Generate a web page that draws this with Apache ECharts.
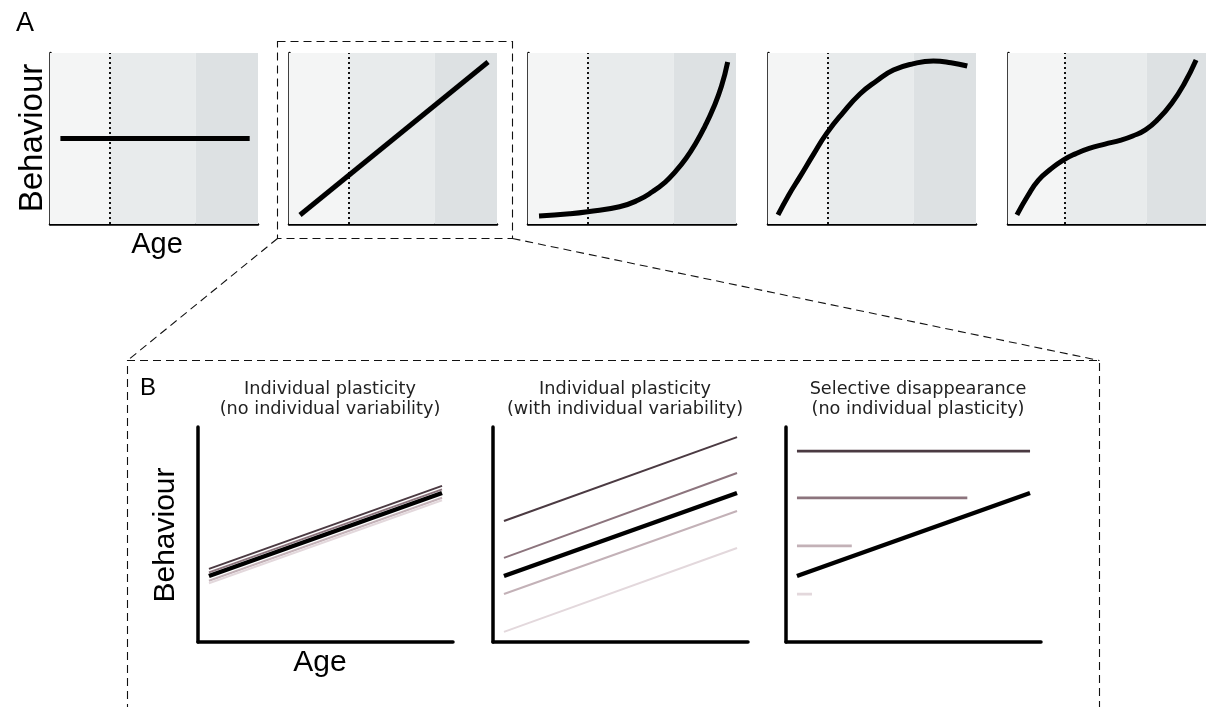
<!DOCTYPE html>
<html><head><meta charset="utf-8">
<script src="https://cdn.jsdelivr.net/npm/echarts@6/dist/echarts.min.js"></script>
<style>html,body{margin:0;padding:0;background:#fff}#c{width:1206px;height:707px}</style>
</head><body><div id="c"></div>
<script>
// ---------- DATA (Age / Behaviour in arbitrary 0-10 units) ----------
// Panel A: life-stage bands along Age and the dotted reference age
const ageBands = [0, 2.85, 7, 10];
const dottedAge = 2.85;
// Panel A curves
const flatAge = [0.5, 9.6];
const flatBeh = [5, 5];
const linAge = [0.53, 9.57];
const linBeh = [0.53, 9.47];
const expAge = [0.53, 2.0, 2.87, 4.4, 5.3, 6.0, 6.6, 7.0, 7.6, 8.1, 8.5, 8.9, 9.3, 9.6];
const expBeh = [0.47, 0.6, 0.72, 1.01, 1.4, 1.9, 2.45, 2.95, 3.85, 4.8, 5.7, 6.75, 8.05, 9.47];
const humpAge = [0.48, 1.0, 1.54, 2.2, 2.82, 3.6, 4.42, 5.2, 6.03, 7.0, 7.95, 8.8, 9.58];
const humpBeh = [0.53, 1.7, 2.77, 4.1, 5.3, 6.5, 7.6, 8.35, 9.0, 9.38, 9.53, 9.43, 9.24];
const sAge = [0.45, 1.0, 1.54, 2.2, 2.79, 3.4, 4.1, 4.9, 5.71, 6.3, 6.94, 7.6, 8.27, 8.9, 9.5];
const sBeh = [0.53, 1.65, 2.57, 3.25, 3.74, 4.1, 4.42, 4.67, 4.91, 5.15, 5.5, 6.15, 7.06, 8.2, 9.59];

// Panel B
const bTitles = ['Individual plasticity\n(no individual variability)',
                 'Individual plasticity\n(with individual variability)',
                 'Selective disappearance\n(no individual plasticity)'];
const bAge = [0.43, 9.57];
const bMean = [3.07, 6.93];
const b1Indiv = [[3.40, 7.26], [3.24, 7.10], [2.85, 6.71], [2.73, 6.59]];
const b2Indiv = [[5.63, 9.53], [3.91, 7.86], [2.23, 6.09], [0.47, 4.37]];
const b3Level = [8.88, 6.70, 4.47, 2.23];
const b3EndAge = [9.57, 7.11, 2.58, 1.02];
const b3StartAge = 0.43;

// ---------- STYLES ----------
const bandColors = ['#f4f5f5', '#e8ebec', '#dde1e3'];
const indivColors = ['#4b3a42', '#8c747d', '#c3b1b7', '#e3d8dc'];
const aLefts = [50, 289, 528, 768, 1008];
const bLefts = [198, 493, 786];

const zip = (xs, ys) => xs.map((x, i) => [x, ys[i]]);

const grids = [], xAxes = [], yAxes = [], series = [];
function addGrid(left, top, width, height, lw) {
  const idx = grids.length;
  grids.push({left, top, width, height, containLabel: false});
  const axisCommon = {type: 'value', min: 0, max: 10, gridIndex: idx,
    axisLine: {show: true, onZero: false, lineStyle: {color: '#000', width: lw}},
    axisTick: {show: false}, axisLabel: {show: false}, splitLine: {show: false}};
  xAxes.push(Object.assign({}, axisCommon));
  yAxes.push(Object.assign({}, axisCommon));
  return idx;
}

const aCurves = [zip(flatAge, flatBeh), zip(linAge, linBeh), zip(expAge, expBeh),
                 zip(humpAge, humpBeh), zip(sAge, sBeh)];
aLefts.forEach((left, i) => {
  const g = addGrid(left, 53, 208, 171, 2.5);
  series.push({
    type: 'line', xAxisIndex: g, yAxisIndex: g, data: aCurves[i],
    smooth: i >= 2 ? 0.5 : false,
    symbol: 'none', lineStyle: {color: '#000', width: 5}, z: 5,
    markArea: {silent: true, data: bandColors.map((c, k) => [
      {xAxis: ageBands[k], itemStyle: {color: c}}, {xAxis: ageBands[k + 1]}])},
    markLine: {silent: true, symbol: ['none', 'none'], label: {show: false},
      lineStyle: {type: [2, 3], color: '#111', width: 2},
      data: [{xAxis: dottedAge}]}
  });
});

const bIndivSets = [b1Indiv, b2Indiv, null];
bLefts.forEach((left, i) => {
  const g = addGrid(left, 427, 255, 215, 3.5);
  if (i < 2) {
    bIndivSets[i].forEach((yy, k) => series.push({
      type: 'line', xAxisIndex: g, yAxisIndex: g, data: zip(bAge, yy), symbol: 'none',
      lineStyle: {color: indivColors[k], width: 2}, z: 3}));
  } else {
    b3Level.forEach((lv, k) => series.push({
      type: 'line', xAxisIndex: g, yAxisIndex: g,
      data: [[b3StartAge, lv], [b3EndAge[k], lv]], symbol: 'none',
      lineStyle: {color: indivColors[k], width: 2.7}, z: 3}));
  }
  series.push({type: 'line', xAxisIndex: g, yAxisIndex: g, data: zip(bAge, bMean),
    symbol: 'none', lineStyle: {color: '#000', width: 4.5}, z: 5});
});

const titles = bTitles.map((t, i) => ({
  text: t, left: bLefts[i] + 127, top: 374, textAlign: 'center',
  textStyle: {fontFamily: 'DejaVu Sans', fontSize: 17.7, fontWeight: 'normal', lineHeight: 20, color: '#222'}
}));

const dash = {stroke: '#111', lineWidth: 1.1, lineDash: [8, 5], fill: null};
const txt = (text, x, y, size, rot) => ({type: 'text', x, y, rotation: rot || 0, z: 10,
  style: {text, fill: '#000', font: size + 'px "Liberation Sans", Arial, sans-serif',
          textAlign: 'center', textVerticalAlign: 'middle'}});

const graphic = [
  {type: 'rect', shape: {x: 277.5, y: 41.5, width: 235, height: 197}, style: dash, z: 10},
  {type: 'line', shape: {x1: 277.5, y1: 238.5, x2: 127.5, y2: 360.5}, style: dash, z: 10},
  {type: 'line', shape: {x1: 512.5, y1: 238.5, x2: 1099.5, y2: 360.5}, style: dash, z: 10},
  {type: 'polyline', shape: {points: [[127.5, 712], [127.5, 360.5], [1099.5, 360.5], [1099.5, 712]]}, style: dash, z: 10},
  txt('A', 25, 24, 27),
  txt('B', 148, 388, 24),
  txt('Behaviour', 33, 138, 33, Math.PI / 2),
  txt('Age', 157, 245, 29),
  txt('Behaviour', 166, 535, 30, Math.PI / 2),
  txt('Age', 320, 663, 30)
];

const chart = echarts.init(document.getElementById('c'), null, {renderer: 'canvas'});
chart.setOption({
  animation: false, backgroundColor: '#fff',
  title: titles, grid: grids, xAxis: xAxes, yAxis: yAxes, series, graphic
});
</script></body></html>
